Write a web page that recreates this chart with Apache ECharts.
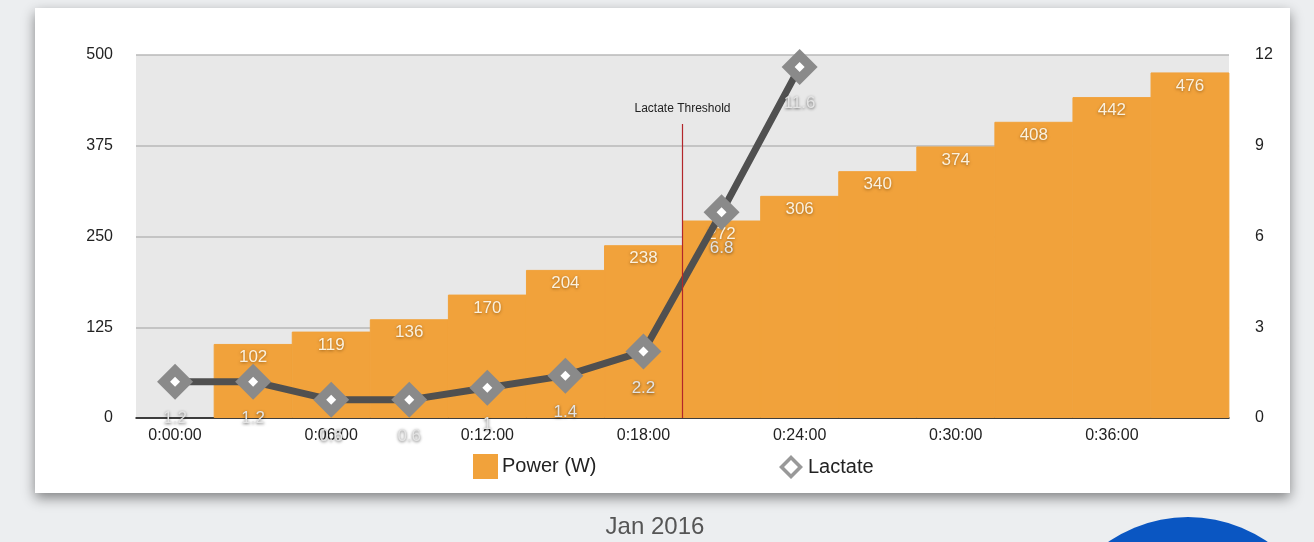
<!DOCTYPE html>
<html>
<head>
<meta charset="utf-8">
<script src="https://cdn.jsdelivr.net/npm/echarts@6/dist/echarts.min.js"></script>
<style>
  html, body { margin: 0; padding: 0; background: #eceef0; }
  #chart { width: 1314px; height: 542px; }
</style>
</head>
<body>
<div id="chart"></div>
<script>
// data
const times = ['0:00:00', '0:03:00', '0:06:00', '0:09:00', '0:12:00', '0:15:00', '0:18:00',
  '0:21:00', '0:24:00', '0:27:00', '0:30:00', '0:33:00', '0:36:00', '0:39:00'];
const power = ['-', 102, 119, 136, 170, 204, 238, 272, 306, 340, 374, 408, 442, 476];
const lactate = [1.2, 1.2, 0.6, 0.6, 1, 1.4, 2.2, 6.8, 11.6];
const thresholdAt = 6.5;      // between 0:18 and 0:21 steps
const thresholdTop = 405;     // where the red line stops (left axis units)

const font = '"Liberation Sans", Arial, sans-serif';
const orange = '#f1a23b';
// hollow diamond for the legend (inner path wound the other way = hole)
const hollowDiamond = 'path://M12,0 L24,12 L12,24 L0,12 Z M12,5 L5,12 L12,19 L19,12 Z';

const chart = echarts.init(document.getElementById('chart'));

chart.setOption({
  backgroundColor: 'transparent',
  textStyle: { fontFamily: font },
  animation: false,
  graphic: [
    {
      type: 'rect', z: -10,
      shape: { x: 35, y: 8, width: 1255, height: 485 },
      style: { fill: '#fff', shadowBlur: 12, shadowColor: 'rgba(0,0,0,0.45)', shadowOffsetY: 5 }
    },
    {
      type: 'circle', z: -10,
      shape: { cx: 1188, cy: 657, r: 140 },
      style: { fill: '#0a56c2' }
    },
    {
      type: 'text', z: -10, x: 655, y: 527,
      style: { text: 'Jan 2016', fill: '#555', font: '24px ' + font, align: 'center', verticalAlign: 'middle' }
    }
  ],
  grid: {
    left: 136, right: 85, top: 55, bottom: 124,
    show: true, backgroundColor: '#e8e8e8', borderWidth: 0
  },
  legend: [
    {
      left: 468, top: 449, itemWidth: 23, itemHeight: 23, itemGap: 10,
      textStyle: { fontSize: 20, color: '#222', fontFamily: font },
      data: [{ name: 'Power (W)', icon: 'rect' }]
    },
    {
      left: 774, top: 450, itemWidth: 24, itemHeight: 24, itemGap: 10,
      textStyle: { fontSize: 20, color: '#222', fontFamily: font },
      data: [{ name: 'Lactate', icon: hollowDiamond, itemStyle: { color: '#999' } }]
    }
  ],
  xAxis: [
    {
      type: 'category',
      data: times,
      boundaryGap: true,
      axisLine: { lineStyle: { color: '#111', width: 1.5 } },
      axisTick: { show: false },
      axisLabel: { interval: 1, margin: 10, fontSize: 16, color: '#222', fontFamily: font },
      splitLine: { show: false }
    },
    {
      type: 'value', min: -0.5, max: 13.5, show: false
    }
  ],
  yAxis: [
    {
      type: 'value', min: 0, max: 500, interval: 125,
      axisLine: { show: false }, axisTick: { show: false },
      axisLabel: { margin: 23, fontSize: 16, color: '#222', fontFamily: font },
      splitLine: { lineStyle: { color: '#b8b8b8', width: 1.5 } }
    },
    {
      type: 'value', min: 0, max: 12, interval: 3, position: 'right',
      axisLine: { show: false }, axisTick: { show: false },
      axisLabel: { margin: 26, fontSize: 16, color: '#222', fontFamily: font },
      splitLine: { show: false }
    }
  ],
  series: [
    {
      name: 'Power (W)',
      type: 'bar',
      data: power,
      barWidth: '101%',
      itemStyle: { color: orange, borderColor: orange, borderWidth: 1 },
      label: {
        show: true, position: 'insideTop', distance: 5,
        fontSize: 17, color: '#fbf1de', fontFamily: font,
        textShadowColor: 'rgba(90,50,0,0.55)', textShadowBlur: 3, textShadowOffsetY: 1
      },
      z: 2
    },
    {
      name: 'threshold',
      type: 'line',
      xAxisIndex: 1, yAxisIndex: 0,
      data: [],
      silent: true,
      markLine: {
        silent: true,
        symbol: 'none',
        lineStyle: { color: '#b3262a', width: 1.2, type: 'solid' },
        label: {
          show: true, position: 'start', distance: 9,
          formatter: 'Lactate Threshold', fontSize: 12, color: '#222', fontFamily: font
        },
        data: [[{ coord: [thresholdAt, thresholdTop] }, { coord: [thresholdAt, 0] }]]
      },
      z: 3
    },
    {
      name: 'Lactate',
      type: 'line',
      yAxisIndex: 1,
      data: lactate,
      symbol: 'diamond',
      symbolSize: 36,
      lineStyle: { color: '#505050', width: 7 },
      itemStyle: { color: '#8a8a8a' },
      label: {
        show: true, position: 'bottom', distance: 10,
        fontSize: 17, color: '#e4e4e4', fontFamily: font,
        textShadowColor: 'rgba(0,0,0,0.6)', textShadowBlur: 3, textShadowOffsetY: 1
      },
      z: 4
    },
    {
      name: 'lactate-dot',
      type: 'line',
      yAxisIndex: 1,
      data: lactate,
      symbol: 'diamond',
      symbolSize: 10,
      showAllSymbol: true,
      lineStyle: { opacity: 0 },
      itemStyle: { color: '#fff' },
      silent: true,
      z: 5
    }
  ]
});
</script>
</body>
</html>
